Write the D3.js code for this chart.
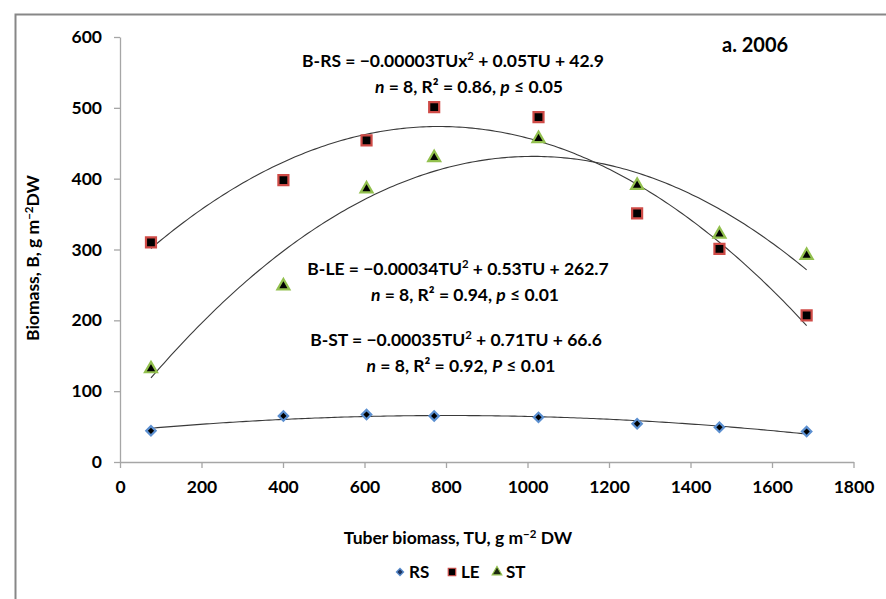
<!DOCTYPE html>
<html>
<head>
<meta charset="utf-8">
<script src="https://cdn.jsdelivr.net/npm/d3@7"></script>
<style>
  html, body { margin: 0; padding: 0; background: #ffffff; }
  svg { display: block; font-family: Lato, "Open Sans", sans-serif; }
</style>
</head>
<body>
<svg id="chart" width="886" height="599"></svg>
<script>
// ---- data ----
const tuberBiomass = [76, 401, 605, 771, 1027, 1269, 1471, 1685];
const rsValues = [44, 65, 67, 65, 63, 54, 49, 43];
const leValues = [310, 398, 454, 501, 487, 351, 301, 207];
const stValues = [133, 250, 387, 431, 458, 392, 323, 293];
const seriesNames = ["RS", "LE", "ST"];
const xTicks = [0, 200, 400, 600, 800, 1000, 1200, 1400, 1600, 1800];
const yTicks = [0, 100, 200, 300, 400, 500, 600];

// ---- layout ----
const svg = d3.select("#chart");
const W = 886, H = 599;
const x = d3.scaleLinear().domain([0, 1800]).range([120, 853.5]);
const y = d3.scaleLinear().domain([0, 600]).range([462, 37]);
const axisColor = "#a6a6a6";
const fontBold = 700;
const tickFont = 17.5;

// outer frame (left and top edges visible)
svg.append("path")
  .attr("d", `M15.5,${H} L15.5,14.5 L${W},14.5`)
  .attr("fill", "none").attr("stroke", "#878787").attr("stroke-width", 2);

// axes
const gx = svg.append("g").attr("transform", `translate(0,${y(0)})`)
  .call(d3.axisBottom(x).tickValues(xTicks).tickFormat(d3.format("d"))
    .tickSize(6).tickSizeOuter(0).tickPadding(13));
const gy = svg.append("g").attr("transform", `translate(${x(0)},0)`)
  .call(d3.axisLeft(y).tickValues(yTicks).tickFormat(d3.format("d"))
    .tickSize(6).tickSizeOuter(0).tickPadding(12));
[gx, gy].forEach(g => {
  g.select(".domain").attr("stroke", axisColor).attr("stroke-width", 1.3);
  g.selectAll(".tick line").attr("stroke", axisColor).attr("stroke-width", 1.3);
  g.selectAll(".tick text").attr("fill", "#000").attr("font-size", tickFont)
    .attr("font-weight", fontBold).attr("font-family", "Lato, sans-serif");
});

// ---- quadratic least-squares trendlines ----
function quadFit(xs, ys) {
  const n = xs.length;
  let s = [0, 0, 0, 0, 0], t = [0, 0, 0];
  for (let i = 0; i < n; i++) {
    const xi = xs[i] / 1000, yi = ys[i];
    let p = 1;
    for (let k = 0; k <= 4; k++) { s[k] += p; if (k <= 2) t[k] += p * yi; p *= xi; }
  }
  const A = [[s[0], s[1], s[2], t[0]], [s[1], s[2], s[3], t[1]], [s[2], s[3], s[4], t[2]]];
  for (let c = 0; c < 3; c++) {
    for (let r = c + 1; r < 3; r++) {
      const f = A[r][c] / A[c][c];
      for (let k = c; k < 4; k++) A[r][k] -= f * A[c][k];
    }
  }
  const b = [0, 0, 0];
  for (let r = 2; r >= 0; r--) {
    let v = A[r][3];
    for (let k = r + 1; k < 3; k++) v -= A[r][k] * b[k];
    b[r] = v / A[r][r];
  }
  return xv => { const u = xv / 1000; return b[0] + b[1] * u + b[2] * u * u; };
}

const seriesData = [rsValues, leValues, stValues];
const xmin = d3.min(tuberBiomass), xmax = d3.max(tuberBiomass);
const line = d3.line().x(d => x(d[0])).y(d => y(d[1])).curve(d3.curveLinear);
seriesData.forEach(vals => {
  const f = quadFit(tuberBiomass, vals);
  const pts = d3.range(0, 201).map(i => { const xv = xmin + (xmax - xmin) * i / 200; return [xv, f(xv)]; });
  svg.append("path").datum(pts).attr("d", line)
    .attr("fill", "none").attr("stroke", "#3a3a3a").attr("stroke-width", 1.1);
});

// ---- markers ----
const markerStyles = [
  { sym: d3.symbolSquare, size: 44, rot: 45, stroke: "#5b8fd0", fill: "#000", dy: 0 },
  { sym: d3.symbolSquare, size: 100, rot: 0, stroke: "#cf4b47", fill: "#000", dy: 0 },
  { sym: d3.symbolTriangle, size: 62, rot: 0, stroke: "#92c04e", fill: "#000", dy: 1 }
];
seriesData.forEach((vals, si) => {
  const st = markerStyles[si];
  svg.append("g").selectAll("path").data(vals).join("path")
    .attr("d", d3.symbol().type(st.sym).size(st.size))
    .attr("transform", (d, i) => `translate(${x(tuberBiomass[i])},${y(d) + st.dy}) rotate(${st.rot})`)
    .attr("fill", st.fill).attr("stroke", st.stroke).attr("stroke-width", 2.2);
});

// ---- annotations ----
function eqLine(cx, py, parts, size) {
  const t = svg.append("text").attr("x", cx).attr("y", py).attr("text-anchor", "middle")
    .attr("font-size", size).attr("font-weight", fontBold).attr("fill", "#000");
  parts.forEach(p => {
    const ts = t.append("tspan").text(p.t);
    if (p.i) ts.attr("font-style", "italic");
    if (p.sup) ts.attr("font-size", size * 0.65).attr("dy", -size * 0.38);
    if (p.down) ts.attr("dy", size * 0.38);
  });
  return t;
}
const eqSize = 17.5;
eqLine(453, 67, [{ t: "B-RS = \u22120.00003TUx" }, { t: "2", sup: 1 }, { t: " + 0.05TU + 42.9", down: 1 }], eqSize);
eqLine(469, 93, [{ t: "n", i: 1 }, { t: " = 8, R\u00b2 = 0.86, " }, { t: "p", i: 1 }, { t: " \u2264 0.05" }], eqSize);
eqLine(458, 275, [{ t: "B-LE = \u22120.00034TU" }, { t: "2", sup: 1 }, { t: " + 0.53TU + 262.7", down: 1 }], eqSize);
eqLine(465, 301, [{ t: "n", i: 1 }, { t: " = 8, R\u00b2 = 0.94, " }, { t: "p", i: 1 }, { t: "  \u2264 0.01" }], eqSize);
eqLine(456, 346, [{ t: "B-ST = \u22120.00035TU" }, { t: "2", sup: 1 }, { t: " + 0.71TU + 66.6", down: 1 }], eqSize);
eqLine(461, 372, [{ t: "n", i: 1 }, { t: " = 8, R\u00b2 = 0.92, " }, { t: "P", i: 1 }, { t: " \u2264 0.01" }], eqSize);

svg.append("text").attr("x", 722).attr("y", 52).attr("font-size", 20)
  .attr("font-weight", fontBold).attr("fill", "#000").text("a. 2006");

// axis titles
const xt = svg.append("text").attr("x", 458).attr("y", 544).attr("text-anchor", "middle")
  .attr("font-size", 17.5).attr("font-weight", fontBold).attr("fill", "#000");
xt.append("tspan").text("Tuber biomass, TU, g m");
xt.append("tspan").text("\u22122").attr("font-size", 11.5).attr("dy", -6);
xt.append("tspan").text(" DW").attr("dy", 6);

const yt = svg.append("text").attr("transform", "translate(39,258) rotate(-90)")
  .attr("text-anchor", "middle").attr("font-size", 17.5).attr("font-weight", fontBold).attr("fill", "#000");
yt.append("tspan").text("Biomass, B, g m");
yt.append("tspan").text("\u22122").attr("font-size", 11.5).attr("dy", -6);
yt.append("tspan").text("DW").attr("dy", 6);

// legend
const legendY = 572;
const legendItems = [
  { x: 400, sym: d3.symbolSquare, size: 26, rot: 45, fill: "#1f3560", stroke: "#5b8fd0" },
  { x: 452, sym: d3.symbolSquare, size: 56, rot: 0, fill: "#000", stroke: "#cf4b47" },
  { x: 497, sym: d3.symbolTriangle, size: 40, rot: 0, fill: "#1d2a10", stroke: "#92c04e" }
];
legendItems.forEach((it, i) => {
  svg.append("path").attr("d", d3.symbol().type(it.sym).size(it.size))
    .attr("transform", `translate(${it.x},${legendY}) rotate(${it.rot})`)
    .attr("fill", it.fill).attr("stroke", it.stroke).attr("stroke-width", 1.2);
  svg.append("text").attr("x", it.x + 9).attr("y", legendY + 6)
    .attr("font-size", 17).attr("font-weight", fontBold).attr("fill", "#000").text(seriesNames[i]);
});
</script>
</body>
</html>
